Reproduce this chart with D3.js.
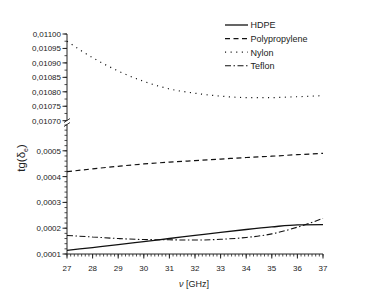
<!DOCTYPE html>
<html>
<head>
<meta charset="utf-8">
<script src="https://cdn.jsdelivr.net/npm/d3@7"></script>
<style>
  body { margin: 0; background: #fff; }
  svg { display: block; }
  text { font-family: "Liberation Sans", Arial, sans-serif; fill: #222; }
</style>
</head>
<body>
<svg id="chart" width="374" height="305"></svg>
<script>
// frequencies
const freq = [27, 28, 29, 30, 31, 32, 33, 34, 35, 36, 37]

// loss tangent per material
const hdpe = [0.000114, 0.000125, 0.000136, 0.000148, 0.000160, 0.000172, 0.000184, 0.000195, 0.000205, 0.000213, 0.000214]
const polypropylene = [0.000419, 0.000430, 0.000440, 0.000449, 0.000456, 0.000462, 0.000468, 0.000474, 0.000479, 0.000485, 0.000490]
const nylon = [0.010975, 0.010918, 0.010872, 0.010836, 0.010810, 0.010795, 0.010785, 0.010780, 0.010780, 0.010783, 0.010787]
const teflon = [0.000172, 0.000166, 0.000160, 0.000156, 0.000155, 0.000154, 0.000157, 0.000164, 0.000178, 0.000204, 0.000238]

const xTicks = [27, 28, 29, 30, 31, 32, 33, 34, 35, 36, 37]
const lowTicks = [0.0001, 0.0002, 0.0003, 0.0004, 0.0005]
const highTicks = [0.0107, 0.01075, 0.0108, 0.01085, 0.0109, 0.01095, 0.011]

const seriesNames = ["HDPE", "Polypropylene", "Nylon", "Teflon"]

const svg = d3.select("#chart")

const x = d3.scaleLinear().domain([27, 37]).range([67, 323])
// the y axis is broken in two segments
const yLow = d3.scaleLinear().domain([0.0001, 0.0005]).range([254, 150.8])
const yHigh = d3.scaleLinear().domain([0.0107, 0.011]).range([120.7, 34])

const fmtLow = d => d3.format(".4f")(d).replace(".", ",")
const fmtHigh = d => d3.format(".5f")(d).replace(".", ",")

// x axis
const gx = svg.append("g").attr("transform", "translate(0,254)")
gx.append("line").attr("x1", x(27)).attr("x2", x(37)).attr("stroke", "#222").attr("stroke-width", 1)
gx.selectAll("line.minor")
  .data(d3.range(27, 37.001, 1 / 7))
  .enter().append("line")
  .attr("x1", d => x(d)).attr("x2", d => x(d))
  .attr("y1", 0).attr("y2", 2.5)
  .attr("stroke", "#222").attr("stroke-width", 0.8)
gx.selectAll("line.major")
  .data(xTicks)
  .enter().append("line")
  .attr("x1", d => x(d)).attr("x2", d => x(d))
  .attr("y1", 0).attr("y2", 4.5)
  .attr("stroke", "#222").attr("stroke-width", 1)
gx.selectAll("text")
  .data(xTicks)
  .enter().append("text")
  .attr("x", d => x(d)).attr("y", 17)
  .attr("text-anchor", "middle")
  .attr("font-size", 8)
  .text(d => d)

// lower y segment
const gyl = svg.append("g")
gyl.append("line").attr("x1", 67).attr("x2", 67).attr("y1", 254).attr("y2", 124.5)
  .attr("stroke", "#222").attr("stroke-width", 1)
gyl.selectAll("line.minor")
  .data(d3.range(0.0001, 0.00061, 0.00002))
  .enter().append("line")
  .attr("x1", 64.5).attr("x2", 67)
  .attr("y1", d => yLow(d)).attr("y2", d => yLow(d))
  .attr("stroke", "#222").attr("stroke-width", 0.8)
gyl.selectAll("line.major")
  .data(lowTicks)
  .enter().append("line")
  .attr("x1", 62.5).attr("x2", 67)
  .attr("y1", d => yLow(d)).attr("y2", d => yLow(d))
  .attr("stroke", "#222").attr("stroke-width", 1)
gyl.selectAll("text")
  .data(lowTicks)
  .enter().append("text")
  .attr("x", 61).attr("y", d => yLow(d) + 3)
  .attr("text-anchor", "end")
  .attr("font-size", 8)
  .text(fmtLow)

// upper y segment
const gyh = svg.append("g")
gyh.append("line").attr("x1", 67).attr("x2", 67).attr("y1", 120.7).attr("y2", 34)
  .attr("stroke", "#222").attr("stroke-width", 1)
gyh.selectAll("line.minor")
  .data(d3.range(0.0107, 0.011001, 0.000025))
  .enter().append("line")
  .attr("x1", 64.5).attr("x2", 67)
  .attr("y1", d => yHigh(d)).attr("y2", d => yHigh(d))
  .attr("stroke", "#222").attr("stroke-width", 0.8)
gyh.selectAll("line.major")
  .data(highTicks)
  .enter().append("line")
  .attr("x1", 62.5).attr("x2", 67)
  .attr("y1", d => yHigh(d)).attr("y2", d => yHigh(d))
  .attr("stroke", "#222").attr("stroke-width", 1)
gyh.selectAll("text")
  .data(highTicks)
  .enter().append("text")
  .attr("x", 61).attr("y", d => yHigh(d) + 3)
  .attr("text-anchor", "end")
  .attr("font-size", 8)
  .text(fmtHigh)

// break marks
svg.append("rect").attr("x", 65).attr("y", 121).attr("width", 4).attr("height", 3).attr("fill", "#fff")
svg.append("line").attr("x1", 64).attr("y1", 122.5).attr("x2", 70).attr("y2", 118.5).attr("stroke", "#222").attr("stroke-width", 0.9)
svg.append("line").attr("x1", 64).attr("y1", 126.5).attr("x2", 70).attr("y2", 122.5).attr("stroke", "#222").attr("stroke-width", 0.9)

// series
const styles = {
  "HDPE": { dash: null, width: 1.3 },
  "Polypropylene": { dash: "5,3.5", width: 1.2 },
  "Nylon": { dash: "1.1,4.5", width: 1.2 },
  "Teflon": { dash: "6,2.5,1.5,2.5", width: 1.1 }
}

function drawSeries(values, yScale, name) {
  const line = d3.line()
    .x((d, i) => x(freq[i]))
    .y(d => yScale(d))
    .curve(d3.curveMonotoneX)
  svg.append("path")
    .datum(values)
    .attr("d", line)
    .attr("fill", "none")
    .attr("stroke", "#111")
    .attr("stroke-width", styles[name].width)
    .attr("stroke-dasharray", styles[name].dash)
}

drawSeries(hdpe, yLow, "HDPE")
drawSeries(polypropylene, yLow, "Polypropylene")
drawSeries(nylon, yHigh, "Nylon")
drawSeries(teflon, yLow, "Teflon")

// legend
const legend = svg.append("g").attr("transform", "translate(225,25)")
seriesNames.forEach((name, i) => {
  const row = legend.append("g").attr("transform", "translate(0," + (i * 13.6) + ")")
  row.append("line")
    .attr("x1", 0).attr("x2", 23)
    .attr("stroke", "#111")
    .attr("stroke-width", styles[name].width)
    .attr("stroke-dasharray", styles[name].dash)
  row.append("text")
    .attr("x", 25.5).attr("y", 3.3)
    .attr("font-size", 9)
    .text(name)
})

// axis titles
const yTitle = svg.append("text")
  .attr("transform", "translate(25,158) rotate(-90)")
  .attr("text-anchor", "middle")
  .attr("font-size", 11.5)
yTitle.append("tspan").text("tg(δ")
yTitle.append("tspan").attr("font-size", 7).attr("dy", 2.5).text("e")
yTitle.append("tspan").attr("dy", -2.5).text(")")

const xTitle = svg.append("text")
  .attr("x", 194).attr("y", 287)
  .attr("text-anchor", "middle")
  .attr("font-size", 9)
xTitle.append("tspan").attr("font-style", "italic").text("ν")
xTitle.append("tspan").text(" [GHz]")
</script>
</body>
</html>
